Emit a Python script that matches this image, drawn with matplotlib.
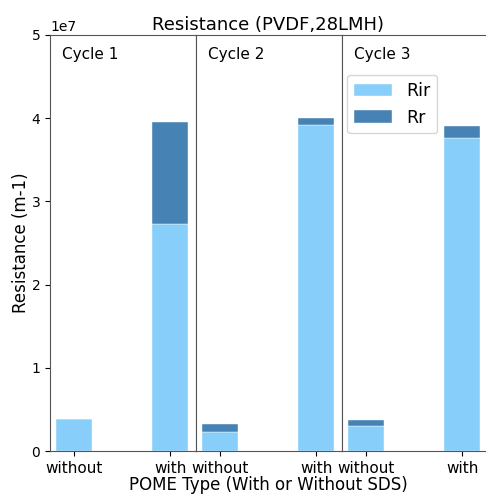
import matplotlib
matplotlib.use("Agg")
import matplotlib.pyplot as plt
import numpy as np

cycles = ["Cycle 1", "Cycle 2", "Cycle 3"]
categories = ["without", "with"]
rir = [[0.39e7, 2.73e7], [0.232e7, 3.92e7], [0.297e7, 3.76e7]]
rr = [[0.0, 1.23e7], [0.093e7, 0.08e7], [0.072e7, 0.146e7]]

fig = plt.figure(figsize=(4.86, 4.94), dpi=100)
L, B, T = 50/486, 43/494, 459/494
w = 146/486
axes = []
for i in range(3):
    ax = fig.add_axes([L + i*w, B, w, T - B], sharey=axes[0] if axes else None)
    axes.append(ax)
    x = np.arange(len(categories))
    ax.bar(x, rir[i], 0.37, color="lightskyblue", label="Rir", edgecolor="white", linewidth=0.3)
    ax.bar(x, rr[i], 0.37, bottom=rir[i], color="steelblue", label="Rr", edgecolor="white", linewidth=0.3)
    ax.set_xticks(x)
    ax.set_xticklabels(categories, fontsize=11)
    ax.set_xlim(-0.25, 1.27)
    ax.text(0.082, 0.972, cycles[i], transform=ax.transAxes, fontsize=11, va="top")
    for s in ax.spines.values():
        s.set_color("#555555")
    if i > 0:
        ax.tick_params(axis="y", left=False, labelleft=False)
axes[0].set_ylim(0, 5e7)
axes[0].set_yticks([0, 1e7, 2e7, 3e7, 4e7, 5e7])
axes[0].set_ylabel("Resistance (m-1)", fontsize=12, labelpad=1)
axes[2].legend(loc="upper left", bbox_to_anchor=(-0.025, 0.925), fontsize=12.5,
               handlelength=2.2)
fig.text(268/486, 469/494, "Resistance (PVDF,28LMH)", ha="center", va="center", fontsize=13)
fig.text(268/486, 9/494, "POME Type (With or Without SDS)", ha="center", va="center", fontsize=12)
fig.savefig("out.png", dpi=100)
